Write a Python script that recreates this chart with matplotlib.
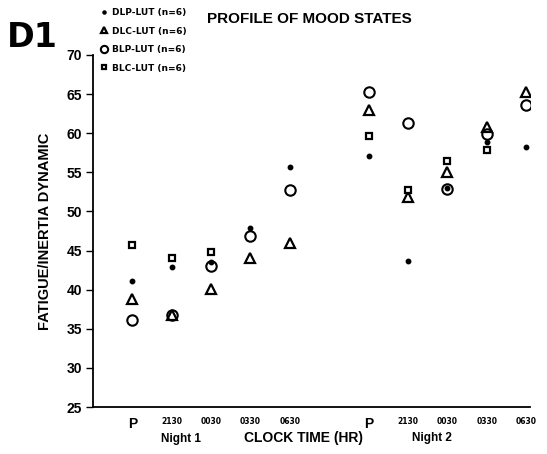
import numpy as np
import matplotlib
matplotlib.use("Agg")
import matplotlib.pyplot as plt

plt.rcParams['font.family'] = ['Liberation Sans', 'DejaVu Sans']
plt.rcParams['font.weight'] = 'bold'

# Measurement occasions: baseline (P) then four clock times, for two nights
x_pos = [0, 1, 2, 3, 4, 6, 7, 8, 9, 10]
tick_labels = ["P", "2130", "0030", "0330", "0630",
               "P", "2130", "0030", "0330", "0630"]

# Fatigue/inertia scores per group
dlp_lut = [41.1, 42.9, 43.5, 47.9, 55.7, 57.1, 43.6, 53.0, 58.9, 58.2]
dlc_lut = [38.8, 36.7, 40.1, 44.0, 46.0, 62.9, 51.9, 55.1, 60.8, 65.3]
blp_lut = [36.1, 36.7, 43.0, 46.9, 52.7, 65.2, 61.3, 52.9, 59.9, 63.6]
blc_lut = [45.7, 44.0, 44.8, np.nan, np.nan, 59.6, 52.8, 56.5, 57.9, np.nan]

group_labels = ["DLP-LUT (n=6)", "DLC-LUT (n=6)", "BLP-LUT (n=6)", "BLC-LUT (n=6)"]

fig = plt.figure(figsize=(5.47, 4.54), dpi=100)
ax = fig.add_axes([0.170, 0.1035, 0.799, 0.7755])

h1, = ax.plot(x_pos, dlp_lut, linestyle='none', marker='o', ms=3.2,
              color='black', label=group_labels[0])
h2, = ax.plot(x_pos, dlc_lut, linestyle='none', marker='^', ms=7,
              mfc='white', mec='black', mew=1.6, label=group_labels[1])
h3, = ax.plot(x_pos, blp_lut, linestyle='none', marker='o', ms=7.5,
              mfc='none', mec='black', mew=1.5, label=group_labels[2])
h4, = ax.plot(x_pos, blc_lut, linestyle='none', marker='s', ms=5,
              mfc='white', mec='black', mew=1.6, label=group_labels[3])

ax.set_xlim(-1, 10.1)
ax.set_ylim(25, 70)
ax.set_yticks(np.arange(25, 71, 5))
ax.tick_params(axis='y', direction='out', length=5, width=1, labelsize=10, pad=3)
for lab in ax.get_yticklabels():
    lab.set_fontweight('bold')

ax.set_xticks(x_pos)
ax.set_xticklabels(tick_labels)
ax.tick_params(axis='x', length=0, pad=7)
for lab in ax.get_xticklabels():
    if lab.get_text() == "P":
        lab.set_fontsize(10)
    else:
        lab.set_fontsize(5.5)
        lab.set_family(['DejaVu Sans'])
    lab.set_fontweight('bold')

for side in ('top', 'right'):
    ax.spines[side].set_visible(False)
for side in ('left', 'bottom'):
    ax.spines[side].set_linewidth(1.3)

ax.set_ylabel("FATIGUE/INERTIA DYNAMIC", fontsize=10.5, fontweight='bold', labelpad=10)

fig.text(0.33, 0.034, "Night 1", fontsize=8.5, fontweight='bold', ha='center', va='center')
fig.text(0.555, 0.036, "CLOCK TIME (HR)", fontsize=10, fontweight='bold', ha='center', va='center')
fig.text(0.79, 0.036, "Night 2", fontsize=8.5, fontweight='bold', ha='center', va='center')

fig.text(0.565, 0.958, "PROFILE OF MOOD STATES", fontsize=11, fontweight='bold',
         ha='center', va='center')
fig.text(0.012, 0.918, "D1", fontsize=24, fontweight='bold', ha='left', va='center',
         family=['DejaVu Sans'])

leg = fig.legend(handles=[h1, h2, h3, h4], loc='upper left',
                 bbox_to_anchor=(0.183, 0.982), frameon=False,
                 prop={'family': 'DejaVu Sans', 'weight': 'bold', 'size': 6.5},
                 markerscale=0.7, handlelength=0.8, handletextpad=0.5,
                 labelspacing=1.05, borderpad=0, borderaxespad=0)

fig.savefig("out.png", dpi=100)
